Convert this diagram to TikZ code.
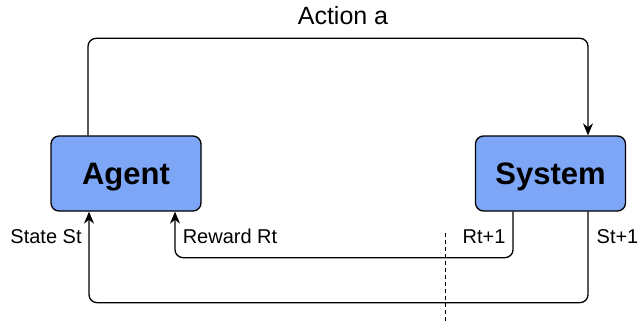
\documentclass[tikz,border=0pt]{standalone}
\usepackage{fontspec}
\setmainfont{Liberation Sans}
\usetikzlibrary{arrows.meta}
\definecolor{boxblue}{RGB}{126,166,247}
\tikzset{
  box/.style={draw,line width=1.3pt,fill=boxblue,rounded corners=8pt,minimum width=150pt,minimum height=75pt,text height=27pt,text depth=6pt,font=\fontsize{31}{31}\selectfont\bfseries},
  flow/.style={line width=1.3pt,rounded corners=8pt,-{Stealth[length=12pt,width=10pt]}},
  lbl/.style={font=\fontsize{20}{20}\selectfont,inner sep=0pt,anchor=base}
}
\begin{document}
\begin{tikzpicture}[x=1pt,y=-1pt]
                \useasboundingbox (0,0) rectangle (639,326);
                \node[box] (agent) at (126,173.5) {Agent};
                \node[box] (system) at (550.5,173.5) {System};
                \node[lbl,font=\fontsize{25}{25}\selectfont] (action) at (343,25) {Action a};
                \node[lbl] (state) at (46,243) {State St};
                \node[lbl] (reward) at (230,243) {Reward Rt};
                \node[lbl] (rnext) at (484,243) {Rt+1};
                \node[lbl] (snext) at (617.5,243) {St+1};
                \draw[flow] ([xshift=-38pt]agent.north) -- ++(0,-97) -| ([xshift=37.5pt]system.north);
                \draw[flow] ([xshift=-37.5pt]system.south) -- ++(0,46) -| ([xshift=49pt]agent.south);
                \draw[flow] ([xshift=37.5pt]system.south) -- ++(0,91) -| ([xshift=-37pt]agent.south);
                \coordinate (cuttop) at (445,233);
                \coordinate (cutbot) at (445,323);
                \draw[dashed,line width=1pt,dash pattern=on 4pt off 3pt] (cuttop) -- (cutbot);
\end{tikzpicture}
\end{document}
